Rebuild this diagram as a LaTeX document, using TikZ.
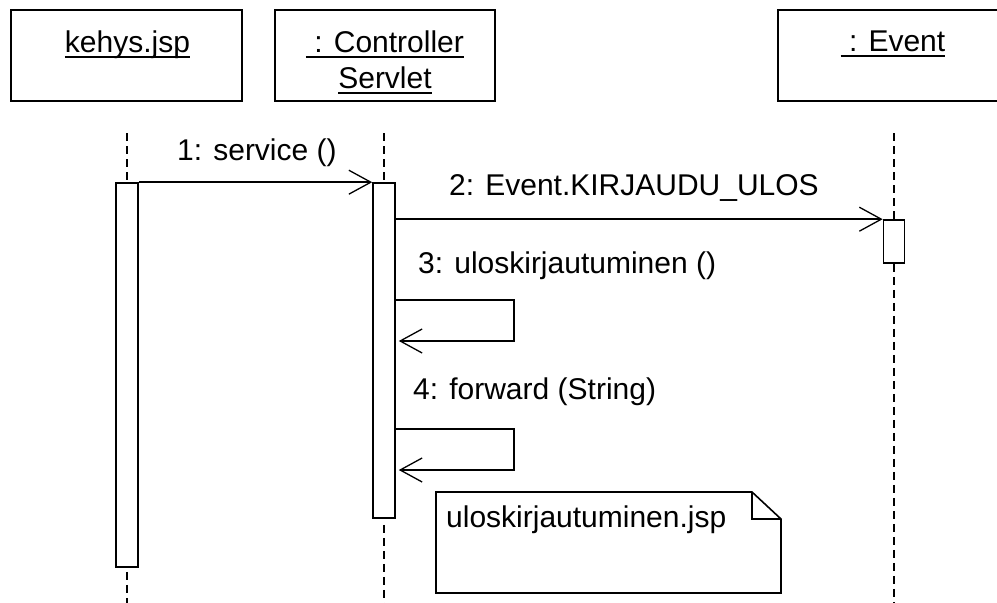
\documentclass[tikz,border=0pt]{standalone}
\usepackage{fontspec}
\setmainfont{Liberation Sans}
\usetikzlibrary{arrows.meta}
\begin{document}
\begin{tikzpicture}[x=1pt,y=-1pt,
  every node/.style={font=\fontsize{30}{34}\selectfont},
  objbox/.style={draw,line width=1.6pt,minimum height=91pt,inner sep=0pt},
  actbar/.style={draw,fill=white,line width=1.6pt,minimum width=22pt,inner sep=0pt},
  lifeline/.style={line width=1.6pt,dash pattern=on 8pt off 5pt},
  msg/.style={line width=1.6pt,-{Straight Barb[length=22pt,width=24pt,line width=1.3pt]}},
  lbl/.style={anchor=base west,inner sep=0pt},
  ttl/.style={anchor=base,inner sep=0pt},
  uline/.style={line width=1.6pt}]
\useasboundingbox (0,0) rectangle (997,603);
\clip (0,0) rectangle (997,603);
\fill[white] (0,0) rectangle (997,603);

% object boxes
\node[objbox,minimum width=231pt] (b1) at (126.5,55.5) {};
\node[objbox,minimum width=220pt] (b2) at (385,55.5) {};
\node[objbox,minimum width=232pt] (b3) at (894,55.5) {};

% titles
\node[ttl] (t1) at (127.5,52) {kehys.jsp};
\node[ttl] (t2a) at (385,52) {\ : Controller};
\node[ttl] (t2b) at (385,88) {Servlet};
\node[ttl] (t3) at (893,51) {\ : Event};
\draw[uline] ([yshift=-5pt]t1.base west) -- ([yshift=-5pt]t1.base east);
\draw[uline] ([yshift=-5pt]t2a.base west) -- ([yshift=-5pt]t2a.base east);
\draw[uline] ([yshift=-5pt]t2b.base west) -- ([yshift=-5pt]t2b.base east);
\draw[uline] ([yshift=-5pt]t3.base west) -- ([yshift=-5pt]t3.base east);

% lifeline tops / bottoms
\coordinate (k0) at (127,133);
\coordinate (k1) at (127,603);
\coordinate (c0) at (384,133);
\coordinate (c1) at (384,603);
\coordinate (e0) at (894,133);
\coordinate (e1) at (894,603);

% activation bars
\node[actbar,minimum height=384pt] (kbar) at (127,375) {};
\node[actbar,minimum height=335pt] (cbar) at (384,350.5) {};
\node[actbar,minimum width=21pt,minimum height=43pt] (ebar) at (894,241.5) {};

% lifelines
\draw[lifeline] (k0) -- (kbar.north);
\draw[lifeline] ([yshift=-4pt]kbar.south) -- (k1);
\draw[lifeline] (c0) -- (cbar.north);
\draw[lifeline] ([yshift=-6pt]cbar.south) -- (c1);
\draw[lifeline] (e0) -- (ebar.north);
\draw[lifeline] (ebar.south) -- (e1);

% self-call turn points
\coordinate (s3a) at (514,300);
\coordinate (s3b) at (514,341);
\coordinate (s4a) at (514,429);
\coordinate (s4b) at (514,470);

% messages
\draw[msg] (kbar.north east) -- (cbar.north west);
\node[lbl] (l1) at (177,160) {1: service ()};
\draw[msg] (ebar.north west -| cbar.east) -- (ebar.north west);
\node[lbl] (l2) at (449,195) {2: Event.KIRJAUDU\_ULOS};
\draw[msg] (s3a -| cbar.east) -- (s3a) -- (s3b) -- ([xshift=3pt]s3b -| cbar.east);
\node[lbl] (l3) at (418,273) {3: uloskirjautuminen ()};
\draw[msg] (s4a -| cbar.east) -- (s4a) -- (s4b) -- ([xshift=3pt]s4b -| cbar.east);
\node[lbl] (l4) at (413,399) {4: forward (String)};

% note
\draw[line width=1.6pt,fill=white] (436,492) -- (752,492) -- (781,519) -- (781,593) -- (436,593) -- cycle;
\draw[line width=1.6pt] (752,492) -- (752,519) -- (781,519);
\node[lbl] (note) at (446,527) {uloskirjautuminen.jsp};
\end{tikzpicture}
\end{document}
